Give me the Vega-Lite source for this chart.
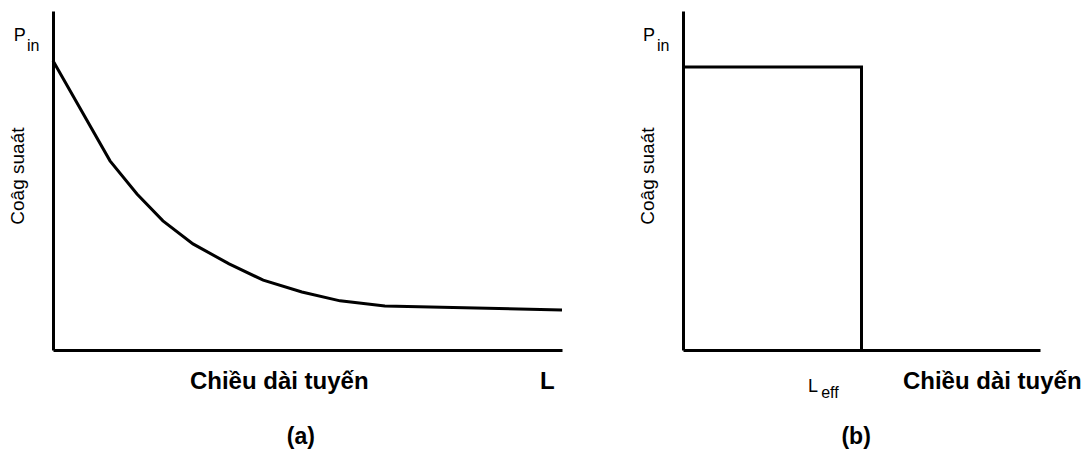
{
  "$schema": "https://vega.github.io/schema/vega-lite/v6.json",
  "padding": {"left": 8, "top": 11, "right": 0, "bottom": 0},
  "background": "white",
  "bounds": "flush",
  "spacing": 121,
  "config": {
    "view": {"stroke": null},
    "font": "Liberation Sans",
    "axis": {"domainColor": "black", "domainWidth": 3, "ticks": false, "labels": false, "grid": false, "title": null}
  },
  "datasets": {
    "curve": [
      {"length": 0, "power": 85.3},
      {"length": 11.2, "power": 55.8},
      {"length": 16.5, "power": 46.0},
      {"length": 21.6, "power": 38.1},
      {"length": 27.5, "power": 31.3},
      {"length": 34.6, "power": 25.4},
      {"length": 41.3, "power": 20.6},
      {"length": 48.9, "power": 17.1},
      {"length": 56.4, "power": 14.5},
      {"length": 65.2, "power": 13.0},
      {"length": 100, "power": 11.8}
    ],
    "rect": [
      {"i": 0, "length": 0, "power": 83.5},
      {"i": 1, "length": 50, "power": 83.5},
      {"i": 2, "length": 50, "power": 0}
    ],
    "labelsA": [
      {"kind": "main", "text": "P", "x": -7.7, "y": 91.2},
      {"kind": "sub", "text": "in", "x": -5.1, "y": 88.2},
      {"kind": "title", "text": "Coâg suaát", "x": -6.9, "y": 51.3},
      {"kind": "bold", "text": "Chiều dài tuyến", "x": 26.9, "y": -11.5},
      {"kind": "bold", "text": "L", "x": 95.7, "y": -11.5},
      {"kind": "panel", "text": "(a)", "x": 48.7, "y": -27.7}
    ],
    "labelsB": [
      {"kind": "main", "text": "P", "x": -11.2, "y": 91.2},
      {"kind": "sub", "text": "in", "x": -7.3, "y": 88.2},
      {"kind": "title", "text": "Coâg suaát", "x": -9.8, "y": 51.3},
      {"kind": "main", "text": "L", "x": 35.0, "y": -12.4},
      {"kind": "sub", "text": "eff", "x": 38.7, "y": -14.2},
      {"kind": "bold", "text": "Chiều dài tuyến", "x": 61.6, "y": -11.5},
      {"kind": "panel", "text": "(b)", "x": 48.5, "y": -27.7}
    ]
  },
  "hconcat": [
    {
      "width": 509,
      "height": 339,
      "layer": [
        {
          "data": {"name": "curve"},
          "mark": {"type": "line", "color": "black", "strokeWidth": 3, "clip": false},
          "encoding": {
            "x": {"field": "length", "type": "quantitative", "scale": {"domain": [0, 100], "nice": false, "zero": false}, "axis": {}},
            "y": {"field": "power", "type": "quantitative", "scale": {"domain": [0, 100], "nice": false, "zero": false}, "axis": {}}
          }
        },
        {
          "data": {"name": "labelsA"},
          "transform": [{"filter": "datum.kind === 'main'"}],
          "mark": {"type": "text", "fontSize": 18, "align": "left", "baseline": "alphabetic", "color": "black"},
          "encoding": {"x": {"field": "x", "type": "quantitative"}, "y": {"field": "y", "type": "quantitative"}, "text": {"field": "text"}}
        },
        {
          "data": {"name": "labelsA"},
          "transform": [{"filter": "datum.kind === 'sub'"}],
          "mark": {"type": "text", "fontSize": 16, "align": "left", "baseline": "alphabetic", "color": "black"},
          "encoding": {"x": {"field": "x", "type": "quantitative"}, "y": {"field": "y", "type": "quantitative"}, "text": {"field": "text"}}
        },
        {
          "data": {"name": "labelsA"},
          "transform": [{"filter": "datum.kind === 'title'"}],
          "mark": {"type": "text", "fontSize": 19, "angle": 270, "align": "center", "baseline": "middle", "color": "black"},
          "encoding": {"x": {"field": "x", "type": "quantitative"}, "y": {"field": "y", "type": "quantitative"}, "text": {"field": "text"}}
        },
        {
          "data": {"name": "labelsA"},
          "transform": [{"filter": "datum.kind === 'bold'"}],
          "mark": {"type": "text", "fontSize": 24, "fontWeight": "bold", "align": "left", "baseline": "alphabetic", "color": "black"},
          "encoding": {"x": {"field": "x", "type": "quantitative"}, "y": {"field": "y", "type": "quantitative"}, "text": {"field": "text"}}
        },
        {
          "data": {"name": "labelsA"},
          "transform": [{"filter": "datum.kind === 'panel'"}],
          "mark": {"type": "text", "fontSize": 23, "fontWeight": "bold", "align": "center", "baseline": "alphabetic", "color": "black"},
          "encoding": {"x": {"field": "x", "type": "quantitative"}, "y": {"field": "y", "type": "quantitative"}, "text": {"field": "text"}}
        }
      ]
    },
    {
      "width": 357,
      "height": 339,
      "layer": [
        {
          "data": {"name": "rect"},
          "mark": {"type": "line", "color": "black", "strokeWidth": 3, "clip": false, "strokeJoin": "miter"},
          "encoding": {
            "x": {"field": "length", "type": "quantitative", "scale": {"domain": [0, 100], "nice": false, "zero": false}, "axis": {}},
            "y": {"field": "power", "type": "quantitative", "scale": {"domain": [0, 100], "nice": false, "zero": false}, "axis": {}},
            "order": {"field": "i", "type": "quantitative"}
          }
        },
        {
          "data": {"name": "labelsB"},
          "transform": [{"filter": "datum.kind === 'main'"}],
          "mark": {"type": "text", "fontSize": 18, "align": "left", "baseline": "alphabetic", "color": "black"},
          "encoding": {"x": {"field": "x", "type": "quantitative"}, "y": {"field": "y", "type": "quantitative"}, "text": {"field": "text"}}
        },
        {
          "data": {"name": "labelsB"},
          "transform": [{"filter": "datum.kind === 'sub'"}],
          "mark": {"type": "text", "fontSize": 16, "align": "left", "baseline": "alphabetic", "color": "black"},
          "encoding": {"x": {"field": "x", "type": "quantitative"}, "y": {"field": "y", "type": "quantitative"}, "text": {"field": "text"}}
        },
        {
          "data": {"name": "labelsB"},
          "transform": [{"filter": "datum.kind === 'title'"}],
          "mark": {"type": "text", "fontSize": 19, "angle": 270, "align": "center", "baseline": "middle", "color": "black"},
          "encoding": {"x": {"field": "x", "type": "quantitative"}, "y": {"field": "y", "type": "quantitative"}, "text": {"field": "text"}}
        },
        {
          "data": {"name": "labelsB"},
          "transform": [{"filter": "datum.kind === 'bold'"}],
          "mark": {"type": "text", "fontSize": 24, "fontWeight": "bold", "align": "left", "baseline": "alphabetic", "color": "black"},
          "encoding": {"x": {"field": "x", "type": "quantitative"}, "y": {"field": "y", "type": "quantitative"}, "text": {"field": "text"}}
        },
        {
          "data": {"name": "labelsB"},
          "transform": [{"filter": "datum.kind === 'panel'"}],
          "mark": {"type": "text", "fontSize": 23, "fontWeight": "bold", "align": "center", "baseline": "alphabetic", "color": "black"},
          "encoding": {"x": {"field": "x", "type": "quantitative"}, "y": {"field": "y", "type": "quantitative"}, "text": {"field": "text"}}
        }
      ]
    }
  ]
}
